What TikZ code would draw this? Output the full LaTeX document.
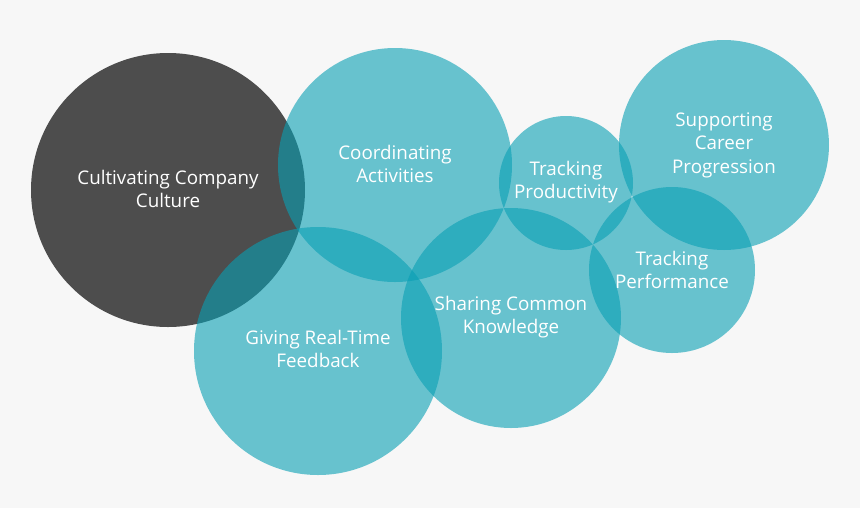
\documentclass[tikz,border=0pt]{standalone}
\usepackage{fontspec}
\setmainfont{Open Sans}
\usepackage{xcolor}
\definecolor{bggray}{RGB}{247,247,247}
\definecolor{darkbubble}{RGB}{77,77,77}
\definecolor{tealbubble}{RGB}{8,159,180}

\begin{document}
\begin{tikzpicture}[x=0.02cm,y=-0.02cm]
  \fill[bggray] (0,0) rectangle (860,508);
  \useasboundingbox (0,0) rectangle (860,508);
  \tikzset{teal/.style={fill=tealbubble,fill opacity=0.6},
    label/.style={text=white,align=center,font=\fontsize{10.7}{13.4}\selectfont}}
  % bubbles
  \fill[darkbubble] (168,190) circle (137);
  \fill[teal] (395,165) circle (117);
  \fill[teal] (318,351) circle (124);
  \fill[teal] (511,318) circle (110);
  \fill[teal] (566,183) circle (67);
  \fill[teal] (724,145) circle (105);
  \fill[teal] (672,270) circle (83);
  % texts
  \node[label] (culture) at (168,189) {Cultivating Company\\Culture};
  \node[label] (coord) at (395,164) {Coordinating\\Activities};
  \node[label] (feedback) at (318,349) {Giving Real-Time\\Feedback};
  \node[label] (knowledge) at (511,317) {Sharing Common\\Knowledge};
  \node[label] (productivity) at (566,182) {Tracking\\Productivity};
  \node[label] (career) at (724,145) {Supporting\\Career\\Progression};
  \node[label] (performance) at (672,270) {Tracking\\Performance};
\end{tikzpicture}
\end{document}
